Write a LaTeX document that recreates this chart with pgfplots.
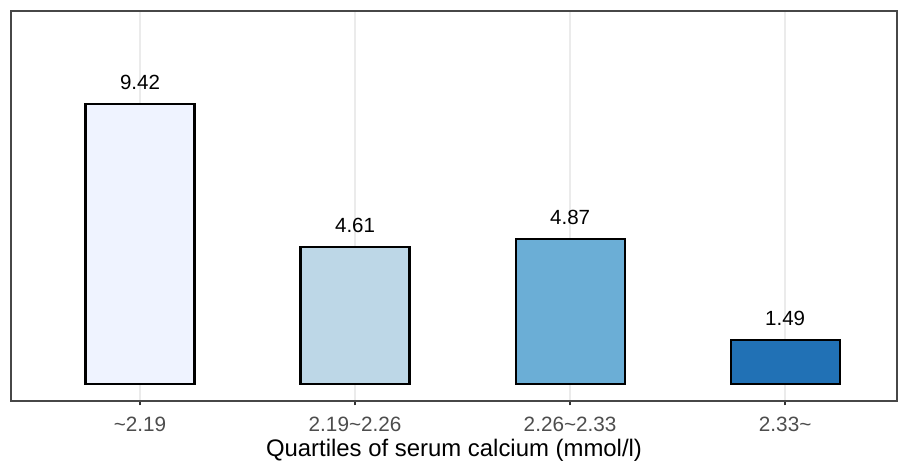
\documentclass[border=0pt]{standalone}
\usepackage{fontspec}
\setmainfont{Liberation Sans}
\usepackage{pgfplots}
\pgfplotsset{compat=1.18}
\definecolor{c1}{HTML}{EFF3FF}
\definecolor{c2}{HTML}{BDD7E7}
\definecolor{c3}{HTML}{6BAED6}
\definecolor{c4}{HTML}{2171B5}
\definecolor{grey20}{HTML}{333333}
\definecolor{grey30}{HTML}{4D4D4D}
\definecolor{gridc}{HTML}{EBEBEB}
\begin{document}
\begin{tikzpicture}
\useasboundingbox (-5.5bp,-30.5bp) rectangle (443.5bp,200.5bp);
\begin{axis}[
  at={(0,0)}, anchor=south west,
  width=443bp, height=195bp, scale only axis,
  xmin=0.4, xmax=4.52, ymin=-0.572, ymax=12.55,
  xtick={1,2,3,4},
  xticklabels={{\textasciitilde2.19},{2.19\textasciitilde2.26},{2.26\textasciitilde2.33},{2.33\textasciitilde}},
  ytick=\empty,
  xmajorgrids,
  grid style={color=gridc, line width=0.8bp},
  axis line style={grey20!90, line width=0.7bp},
  tick style={grey20, line width=0.7bp},
  tick align=outside, xtick pos=bottom,
  major tick length=2.2bp,
  xticklabel style={font=\fontsize{10.4}{12}\selectfont, text=grey30, inner sep=0pt, yshift=-5.5bp, anchor=north},
  xlabel={Quartiles of serum calcium (mmol/l)},
  xlabel style={font=\fontsize{12}{14}\selectfont, inner sep=0pt, yshift=-3.8bp},
  ybar, bar width=0.507, bar shift=0pt,
  point meta=explicit symbolic,
  nodes near coords,
  nodes near coords style={font=\fontsize{10.3}{12}\selectfont, text=black, inner sep=0pt, anchor=south, yshift=6.5bp},
]
\addplot[fill=c1, draw=black, line width=1.1bp] coordinates {(1,9.42) [9.42]};
\addplot[fill=c2, draw=black, line width=1.1bp] coordinates {(2,4.61) [4.61]};
\addplot[fill=c3, draw=black, line width=1.1bp] coordinates {(3,4.87) [4.87]};
\addplot[fill=c4, draw=black, line width=1.1bp] coordinates {(4,1.49) [1.49]};
\end{axis}
\end{tikzpicture}
\end{document}
